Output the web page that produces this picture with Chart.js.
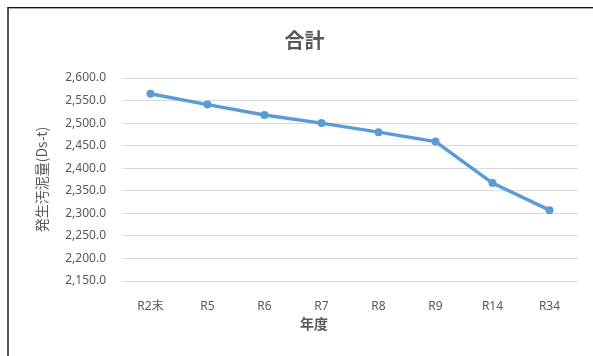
<!DOCTYPE html>
<html lang="ja">
<head>
<meta charset="utf-8">
<title>合計</title>
<script src="https://cdn.jsdelivr.net/npm/chart.js@4/dist/chart.umd.min.js"></script>
<style>
  html, body { margin: 0; padding: 0; background: #fff; }
  #frame {
    position: absolute; left: 7px; top: 7px; width: 586px; height: 349px;
    border-top: 1px solid #111; border-left: 2px solid #555;
    box-shadow: inset 0 1px 0 #aaa;
  }
  #box { position: absolute; left: 9px; top: 8px; width: 584px; height: 348px; }
</style>
</head>
<body>
<div id="frame"></div>
<div id="box"><canvas id="lineChart"></canvas></div>
<script>
// 年度ごとの発生汚泥量
var nendo = ['R2末', 'R5', 'R6', 'R7', 'R8', 'R9', 'R14', 'R34']
var odeiryo = [2565, 2541, 2518, 2500, 2480, 2459, 2367, 2307]
var yMin = 2150
var yMax = 2600
var yStep = 50

var textColor = '#595959'
var fontFamily = "'Noto Sans', 'Noto Sans CJK JP', sans-serif"

// x軸タイトル (年度) は少し左寄せで描く
var xTitlePlugin = {
    id: 'xTitle',
    afterDraw: function(chart) {
        var ctx = chart.ctx
        ctx.save()
        ctx.font = "bold 14px 'Noto Sans CJK JP', sans-serif"
        ctx.fillStyle = textColor
        ctx.textAlign = 'center'
        ctx.textBaseline = 'middle'
        ctx.fillText('年度', chart.width / 2 + 13, chart.height - 32)
        ctx.restore()
    }
}

var lineChartCanvas = document.getElementById('lineChart').getContext('2d')

var lineChart = new Chart(lineChartCanvas, {
    type: 'line',
    data: {
        labels: nendo,
        datasets: [
            {
                label: '合計',
                data: odeiryo,
                borderColor: '#5b9bd5',
                backgroundColor: '#5b9bd5',
                borderWidth: 3.5,
                pointRadius: 4,
                pointBorderWidth: 0,
                pointBackgroundColor: '#5b9bd5',
                tension: 0,
                fill: false
            }
        ]
    },
    options: {
        responsive: true,
        maintainAspectRatio: false,
        animation: false,
        layout: { padding: { left: 22, right: 15, top: 0, bottom: 0 } },
        plugins: {
            legend: { display: false },
            tooltip: { enabled: false },
            title: {
                display: true,
                text: '合計',
                color: textColor,
                font: { family: "'Noto Sans CJK JP', sans-serif", size: 20, weight: 'bold' },
                padding: { top: 20, bottom: 26 }
            }
        },
        scales: {
            x: {
                offset: true,
                grid: { display: false },
                border: { display: false },
                ticks: { color: textColor, font: { family: fontFamily, size: 12 }, padding: 10 },
                afterFit: function(scale) { scale.height = 75 }
            },
            y: {
                min: yMin,
                max: yMax,
                grid: { color: '#d9d9d9', lineWidth: 1, drawTicks: false },
                border: { display: false },
                ticks: {
                    stepSize: yStep,
                    color: textColor,
                    font: { family: fontFamily, size: 12 },
                    padding: 16,
                    callback: function(v) {
                        return v.toLocaleString('en-US', { minimumFractionDigits: 1, maximumFractionDigits: 1 })
                    }
                },
                title: {
                    display: true,
                    text: '発生汚泥量(Ds-t)',
                    color: textColor,
                    font: { family: "'Noto Sans CJK JP', sans-serif", size: 14 },
                    padding: { top: 2, bottom: 0 }
                },
                afterFit: function(scale) { scale.width = 91 }
            }
        }
    },
    plugins: [xTitlePlugin]
})
</script>
</body>
</html>
